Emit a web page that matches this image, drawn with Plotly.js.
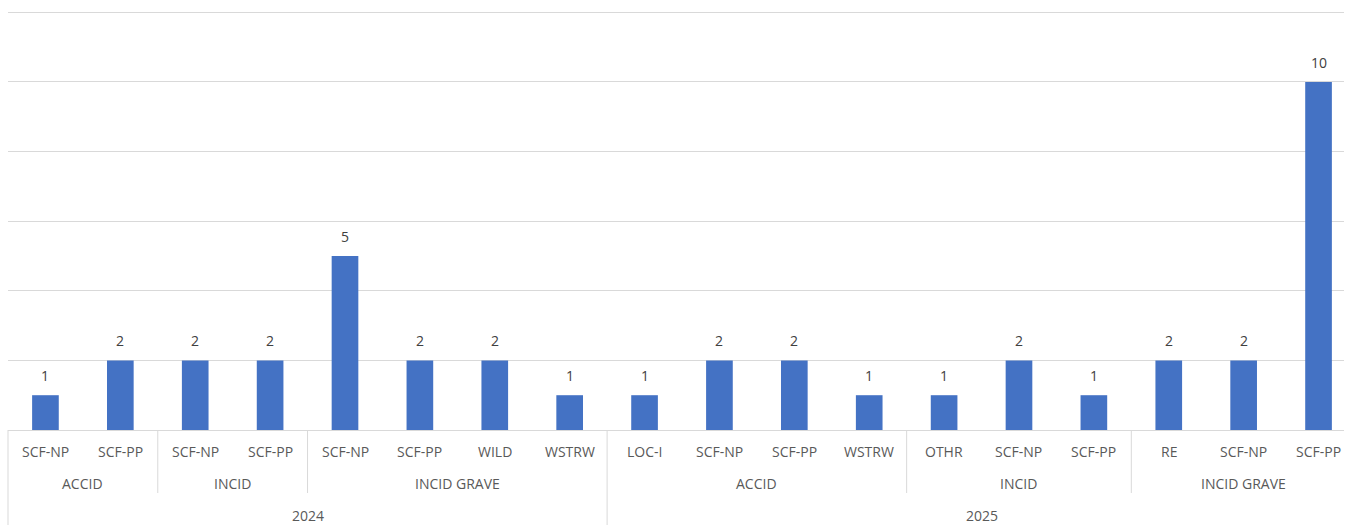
<!DOCTYPE html>
<html>
<head>
<meta charset="utf-8">
<script src="https://cdn.plot.ly/plotly-3.0.1.min.js"></script>
<style>
  html, body { margin: 0; padding: 0; background: #ffffff; }
  #chart { width: 1352px; height: 525px; }
</style>
</head>
<body>
<div id="chart"></div>
<script>
// Event counts by year, event class and category code
const years = ['2024','2024','2024','2024','2024','2024','2024','2024',
               '2025','2025','2025','2025','2025','2025','2025','2025','2025','2025'];
const classes = ['ACCID','ACCID','INCID','INCID','INCID GRAVE','INCID GRAVE','INCID GRAVE','INCID GRAVE',
                 'ACCID','ACCID','ACCID','ACCID','INCID','INCID','INCID','INCID GRAVE','INCID GRAVE','INCID GRAVE'];
const codes = ['SCF-NP','SCF-PP','SCF-NP','SCF-PP','SCF-NP','SCF-PP','WILD','WSTRW',
               'LOC-I','SCF-NP','SCF-PP','WSTRW','OTHR','SCF-NP','SCF-PP','RE','SCF-NP','SCF-PP'];
const counts = [1,2,2,2,5,2,2,1,1,2,2,1,1,2,1,2,2,10];

const W = 1352, H = 525;
const M = { l: 8, r: 8, t: 11, b: 95 };
const plotH = H - M.t - M.b;
const n = codes.length;
const idx = codes.map((_, i) => i);

// the category area runs a little past the right edge of the grid
const xRange = [-0.5, n - 0.66];

// helpers: pixel offset below the axis -> paper y; category edge -> paper x
const below = d => -d / plotH;
const edge = i => (i - 0.5 - xRange[0]) / (xRange[1] - xRange[0]);

const AX = '#d9d9d9';
const TXT = '#595959';
const FONT = 'Open Sans, Noto Sans, sans-serif';

// runs of identical keys, returning [start, end] index pairs
function runs(keyFn) {
  const out = [];
  let s = 0;
  for (let i = 1; i <= n; i++) {
    if (i === n || keyFn(i) !== keyFn(s)) { out.push([s, i - 1]); s = i; }
  }
  return out;
}
const yearRuns = runs(i => years[i]);
const classRuns = runs(i => years[i] + '|' + classes[i]);

const annotations = [];
// bar value labels
idx.forEach(i => annotations.push({
  x: i, y: counts[i], xref: 'x', yref: 'y', text: String(counts[i]),
  showarrow: false, yanchor: 'bottom', yshift: 8,
  font: { family: FONT, size: 14, color: '#404040' }
}));
// first level: category code
idx.forEach(i => annotations.push({
  x: i, y: below(21), xref: 'x', yref: 'paper', text: codes[i],
  showarrow: false, yanchor: 'middle',
  font: { family: FONT, size: 14, color: TXT }
}));
// second level: event class
classRuns.forEach(([a, b]) => annotations.push({
  x: (a + b) / 2, y: below(53), xref: 'x', yref: 'paper', text: classes[a],
  showarrow: false, yanchor: 'middle',
  font: { family: FONT, size: 14, color: TXT }
}));
// third level: year
yearRuns.forEach(([a, b]) => annotations.push({
  x: (a + b) / 2, y: below(85), xref: 'x', yref: 'paper', text: years[a],
  showarrow: false, yanchor: 'middle',
  font: { family: FONT, size: 14, color: TXT }
}));

// divider lines of the grouped category axis
const shapes = [];
const yearStarts = new Set(yearRuns.map(r => r[0]));
classRuns.forEach(([a]) => {
  const full = yearStarts.has(a);
  shapes.push({
    type: 'line', xref: 'paper', yref: 'paper',
    x0: edge(a), x1: edge(a),
    y0: 0, y1: full ? below(95) : below(63),
    line: { color: AX, width: 1 }
  });
});

const trace = {
  type: 'bar',
  x: idx,
  y: counts,
  marker: { color: '#4472C4' },
  hoverinfo: 'skip'
};

const layout = {
  width: W, height: H,
  margin: M,
  paper_bgcolor: '#ffffff',
  plot_bgcolor: '#ffffff',
  showlegend: false,
  bargap: 0.644,
  xaxis: {
    range: xRange,
    showticklabels: false, ticks: '',
    showgrid: false, zeroline: false,
    showline: true, linecolor: AX, linewidth: 1,
    fixedrange: true
  },
  yaxis: {
    range: [0, 12.04],
    dtick: 2, tick0: 0,
    showticklabels: false, ticks: '',
    showgrid: true, gridcolor: AX, gridwidth: 1,
    zeroline: false, showline: false,
    fixedrange: true
  },
  annotations: annotations,
  shapes: shapes
};

Plotly.newPlot('chart', [trace], layout, { displayModeBar: false, staticPlot: true });
</script>
</body>
</html>
